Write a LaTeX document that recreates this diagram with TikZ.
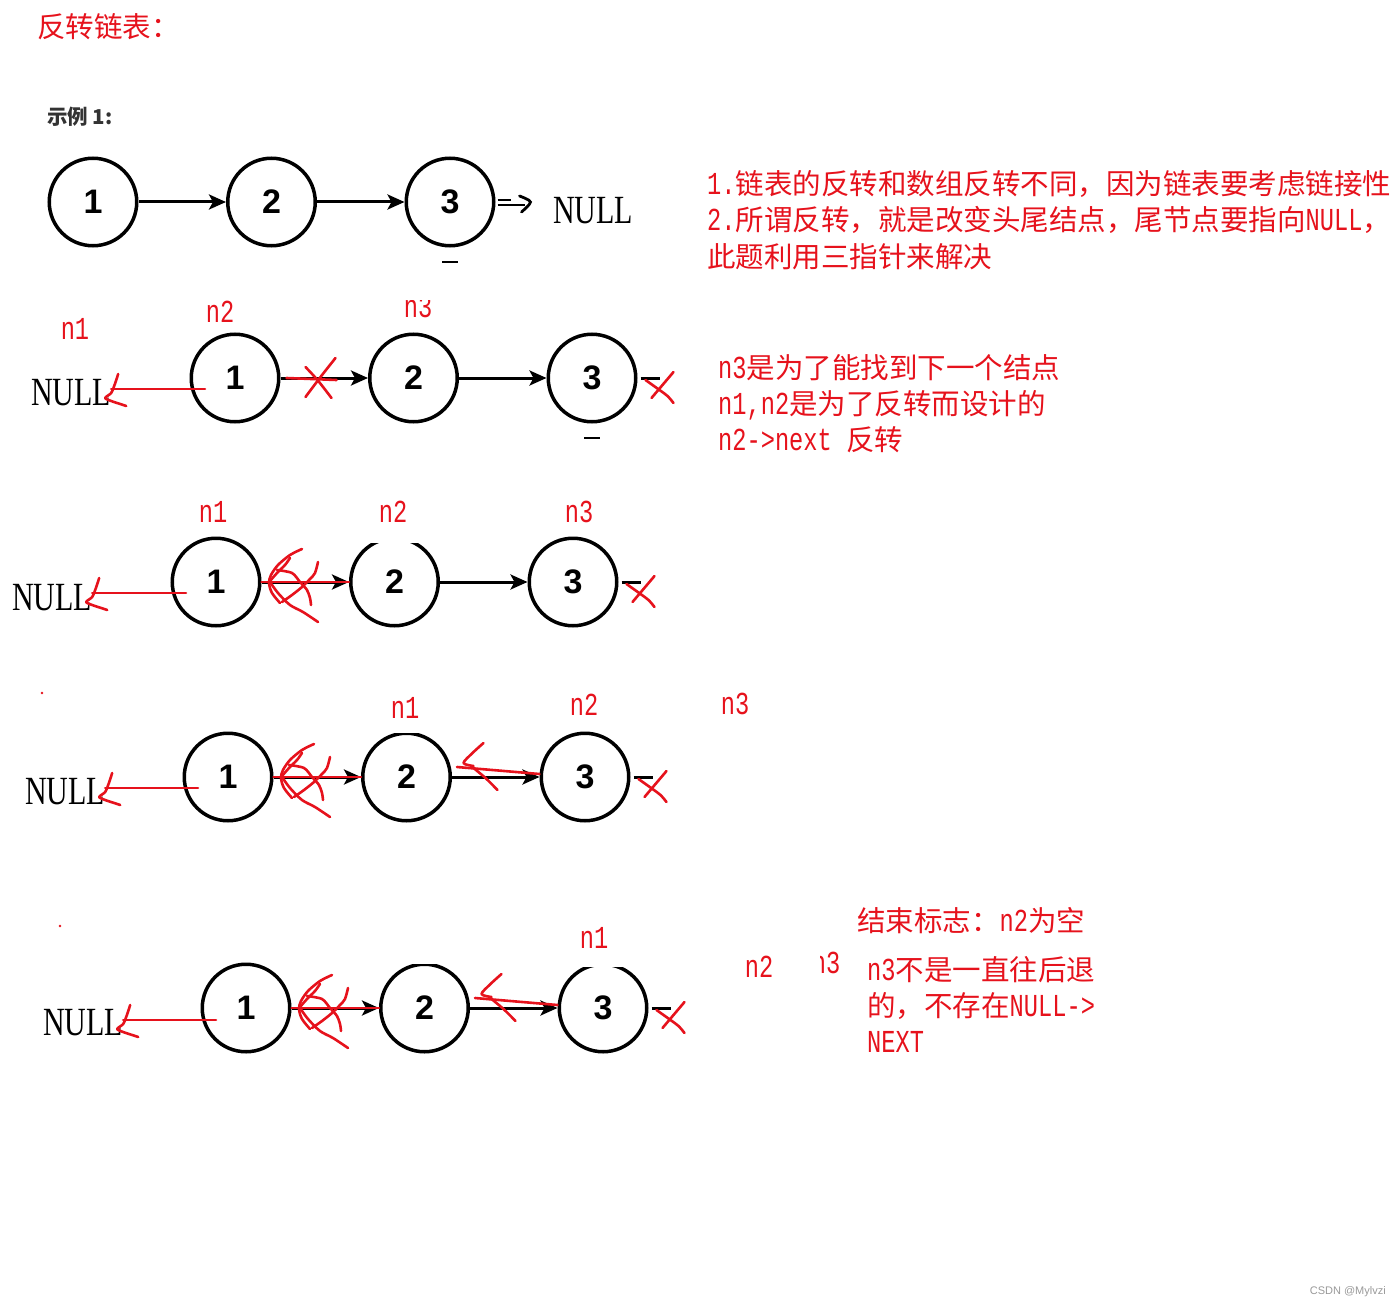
\documentclass[tikz,border=0pt]{standalone}
\usepackage{fontspec}
\setmainfont{Liberation Serif}
\newfontfamily\cjk{Noto Sans CJK SC}
\newfontfamily\halfw[FakeStretch=0.74]{Liberation Mono}
\newfontfamily\nulltext[FakeStretch=0.75]{Liberation Serif}
\newfontfamily\digitfont{Liberation Sans}
\usetikzlibrary{arrows.meta,positioning}

\definecolor{inkred}{RGB}{230,18,28}
\definecolor{labelgray}{RGB}{51,51,51}

\newcommand{\hw}[1]{{\fontsize{32}{36}\halfw #1}}

\begin{document}
\begin{tikzpicture}[x=1pt, y=-1pt,
    node distance=87.5pt,
    item/.style={circle, draw=black, line width=3.5pt, minimum size=87.5pt,
      inner sep=0pt, font=\digitfont\bfseries\fontsize{34}{34}\selectfont},
    link/.style={-{Stealth[length=17pt,width=15pt,inset=4pt]}, line width=3pt},
    ink/.style={draw=inkred, line width=2.6pt, line cap=round, line join=round},
    null/.style={inner sep=0pt, font=\fontsize{40}{40}\nulltext},
    note/.style={anchor=base west, inner sep=0pt, text=inkred,
      font=\fontsize{28.5}{36}\cjk},
    tag/.style={inner sep=0pt, text=inkred, font=\fontsize{32}{36}\halfw},
    blank/.style={fill=white},
    nullhook/.pic={
      \draw[ink] plot[smooth] coordinates {(7,-15) (3,-3) (0,4) (-6,9) (0,12) (9,15) (15,17)};
    },
    strike/.pic={
      \draw[ink] (6,0) -- (56,2);
      \draw[ink] plot[smooth] coordinates {(55,-20) (40,-1) (25,19)};
      \draw[ink] plot[smooth] coordinates {(25,-11) (37,2) (51,20)};
    },
    scrawl/.pic={
      \draw[ink] plot[smooth] coordinates {(40.5,-33) (28.5,-27) (16.5,-17) (9.5,-7) (7.5,1) (10.5,11) (18.5,21)};
      \draw[ink] plot[smooth] coordinates {(56.5,-20) (53.5,-9) (48.5,-3) (40.5,5) (30.5,13) (20.5,20)};
      \draw[ink] plot[smooth] coordinates {(15.5,-12) (30.5,-9) (38.5,0) (45.5,8) (48.5,16) (49.5,23)};
      \draw[ink] plot[smooth] coordinates {(8.5,0) (16.5,11) (28.5,23) (41.5,30) (56.5,40)};
      \draw[ink] plot[smooth] coordinates {(28.5,-24) (23.5,-17) (15.5,-9) (8.5,-1)};
    },
    backhook/.pic={
      \draw[ink] plot[smooth] coordinates {(31.5,-34) (20.5,-24) (11.5,-14) (21.5,-11)};
      \draw[ink] plot[smooth] coordinates {(21.5,-9) (33.5,1) (45.5,13)};
    },
    cross/.pic={
      \draw[line width=3pt] (3,0) -- (22,0);
      \draw[ink] plot[smooth] coordinates {(36,-6) (25,7) (14,20)};
      \draw[ink] plot[smooth] coordinates {(8,2) (22,12) (30,18) (36,25)};
    },
    tail/.pic={
      \draw[line width=2.8pt] (2,-2) -- (15,-2);
      \draw[line width=2.8pt] (2,3) -- (29,3);
      \draw[line width=2.8pt, line cap=round] plot[smooth] coordinates {(24,-6) (35,0) (26,10)};
    }
  ]
  \useasboundingbox (0,0) rectangle (1400,1308);

  % heading
  \node[note] (title) at (37,38) {反转链表：};
  \node[anchor=base west, inner sep=0pt, text=labelgray,
    font=\fontsize{20.5}{24}\cjk\bfseries] (example) at (47,125) {示例 1:};

  % example list
  \node[item] (a1) at (93,202) {1};
  \node[item, right=of a1] (a2) {2};
  \node[item, right=of a2] (a3) {3};
  \node[null] (anull) at (593,211) {NULL};
  \draw[link] (a1) -- (a2);
  \draw[link] (a2) -- (a3);
  \pic at (a3.east) {tail};
  \draw[line width=2.8pt] ([shift={(-8,60)}]a3.center) -- ([shift={(8,60)}]a3.center);

  \node[note] (why1) at (707,195) {\hw{1.}链表的反转和数组反转不同，因为链表要考虑链接性};
  \node[note] (why2) at (707,231) {\hw{2.}所谓反转，就是改变头尾结点，尾节点要指向\hw{NULL}，};
  \node[note] (why3) at (707,267) {此题利用三指针来解决};

  % step 1
  \node[item] (b1) at (235,378) {1};
  \node[item, right=of b1] (b2) {2};
  \node[item, right=of b2] (b3) {3};
  \node[null] (bnull) at (71,393) {NULL};
  \draw[link] (b1) -- (b2);
  \draw[link] (b2) -- (b3);
  \draw[line width=2.8pt] ([shift={(-8,60)}]b3.center) -- ([shift={(8,60)}]b3.center);
  \coordinate (bs) at ([shift={(-30,11)}]b1.center);
  \draw[ink] (bs) -- (bs -| bnull.east) coordinate (be);
  \pic at (be) {nullhook};
  \pic at (b1.east) {strike};
  \pic at (b3.east) {cross};
  \node[tag] (bn1) at (75,329) {n1};
  \node[tag] (bn2) at (220,312) {n2};
  \begin{scope}
    \clip (380,300) rectangle (460,330);
    \node[tag] (bn3) at (418,307) {n3};
  \end{scope}

  \node[note] (ptr1) at (718,378) {\hw{n3}是为了能找到下一个结点};
  \node[note] (ptr2) at (718,414) {\hw{n1,n2}是为了反转而设计的};
  \node[note] (ptr3) at (718,450) {\hw{n2->next }反转};

  % step 2
  \node[item] (c1) at (216,582) {1};
  \node[item, right=of c1] (c2) {2};
  \node[item, right=of c2] (c3) {3};
  \node[null] (cnull) at (52,598) {NULL};
  \fill[blank] ([shift={(-26,-50)}]c2.center) rectangle ([shift={(26,-39)}]c2.center);
  \draw[link] (c1) -- (c2);
  \draw[link] (c2) -- (c3);
  \draw[ink] (c1) -- (c2);
  \coordinate (cs) at ([shift={(-30,11)}]c1.center);
  \draw[ink] (cs) -- (cs -| cnull.east) coordinate (ce);
  \pic at (ce) {nullhook};
  \pic at (c1.east) {scrawl};
  \pic at (c3.east) {cross};
  \node[tag] (cn1) at (213,512) {n1};
  \node[tag] (cn2) at (393,512) {n2};
  \node[tag] (cn3) at (579,512) {n3};

  % step 3
  \fill[inkred] (42,693) circle (1.3);
  \node[item] (d1) at (228,777) {1};
  \node[item, right=of d1] (d2) {2};
  \node[item, right=of d2] (d3) {3};
  \node[null] (dnull) at (65,792) {NULL};
  \fill[blank] ([shift={(-24,-50)}]d2.center) rectangle ([shift={(24,-44)}]d2.center);
  \draw[link] (d1) -- (d2);
  \draw[link] (d2) -- (d3);
  \draw[ink] (d1) -- (d2);
  \draw[ink] ([shift={(5,-10)}]d2.east) -- ([shift={(0,-3)}]d3.west);
  \coordinate (ds) at ([shift={(-30,11)}]d1.center);
  \draw[ink] (ds) -- (ds -| dnull.east) coordinate (de);
  \pic at (de) {nullhook};
  \pic at (d1.east) {scrawl};
  \pic at (d2.east) {backhook};
  \pic at (d3.east) {cross};
  \node[tag] (dn1) at (405,708) {n1};
  \node[tag] (dn2) at (584,705) {n2};
  \node[tag] (dn3) at (735,704) {n3};

  % step 4
  \fill[inkred] (60,926) circle (1.3);
  \node[item] (e1) at (246,1008) {1};
  \node[item, right=of e1] (e2) {2};
  \node[item, right=of e2] (e3) {3};
  \node[null] (enull) at (83,1023) {NULL};
  \fill[blank] ([shift={(-24,-50)}]e2.center) rectangle ([shift={(24,-44)}]e2.center);
  \fill[blank] ([shift={(-26,-50)}]e3.center) rectangle ([shift={(26,-41)}]e3.center);
  \draw[link] (e1) -- (e2);
  \draw[link] (e2) -- (e3);
  \draw[ink] (e1) -- (e2);
  \draw[ink] ([shift={(5,-10)}]e2.east) -- ([shift={(0,-3)}]e3.west);
  \coordinate (es) at ([shift={(-30,12)}]e1.center);
  \draw[ink] (es) -- (es -| enull.east) coordinate (ee);
  \pic at (ee) {nullhook};
  \pic at (e1.east) {scrawl};
  \pic at (e2.east) {backhook};
  \pic at (e3.east) {cross};
  \node[tag] (en1) at (594,938) {n1};
  \node[tag] (en2) at (759,967) {n2};
  \begin{scope}
    \clip (820,940) rectangle (860,990);
    \node[tag] (en3) at (826,963) {n3};
  \end{scope}

  \node[note] (stop) at (857,931) {结束标志：\hw{n2}为空};
  \node[note] (end1) at (867,980) {\hw{n3}不是一直往后退};
  \node[note] (end2) at (867,1016) {的，不存在\hw{NULL->}};
  \node[note] (end3) at (867,1052) {\hw{NEXT}};

  \node[anchor=east, inner sep=0pt, text=black!40,
    font=\fontsize{11}{12}\digitfont] (mark) at (1386,1292) {CSDN @Mylvzi};
\end{tikzpicture}
\end{document}
